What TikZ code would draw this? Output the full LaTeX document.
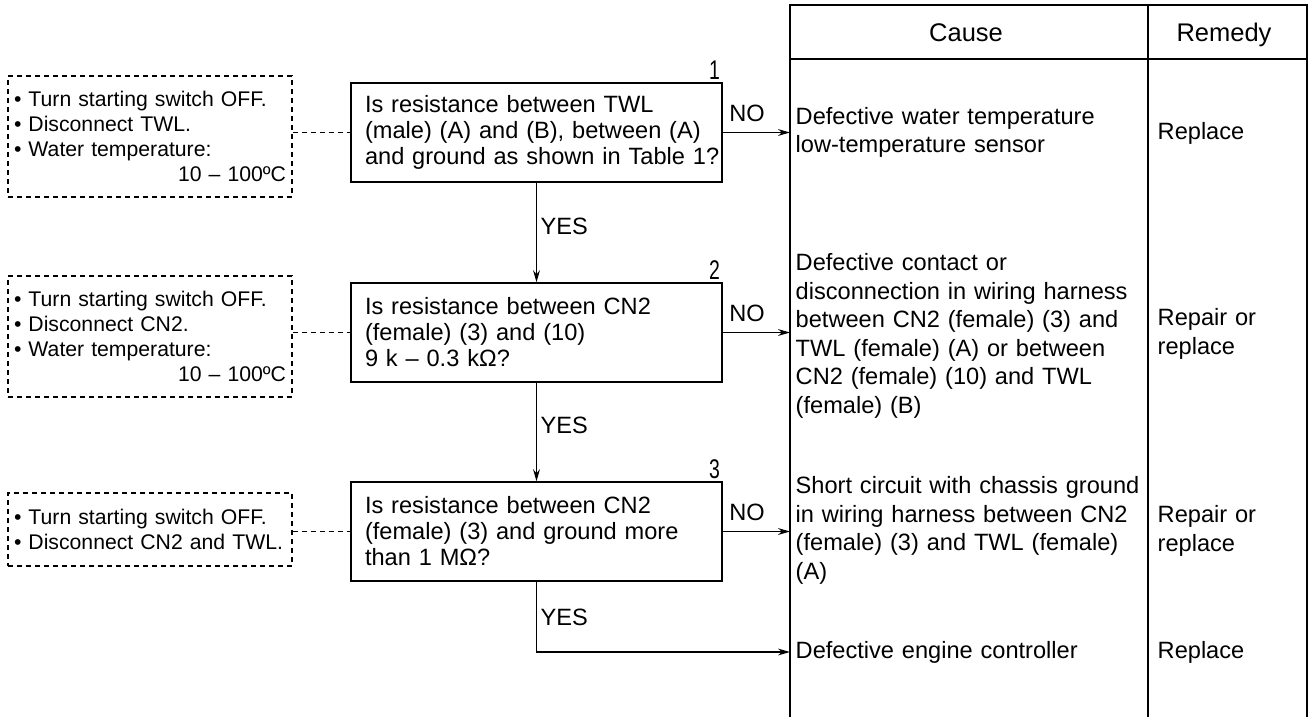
\documentclass[tikz,border=0pt]{standalone}
\usepackage{fontspec}
\setmainfont{Liberation Sans}
\usepackage{graphicx}
\usetikzlibrary{arrows.meta}
\begin{document}
\begin{tikzpicture}[x=0.5pt,y=-0.5pt,
  line width=0.7pt,
  every node/.style={inner sep=0pt},
  qbox/.style={draw, font=\fontsize{11.8pt}{13pt}\selectfont, minimum width=185.5pt, minimum height=49.5pt, text width=171.5pt, align=left, inner xsep=7pt},
  cond/.style={draw, dash pattern=on 2.5pt off 2pt, font=\fontsize{10.6pt}{12.6pt}\selectfont, minimum width=142pt, text width=136pt, align=left, inner xsep=3pt},
  cause/.style={anchor=west, font=\fontsize{11.8pt}{14.25pt}\selectfont, text width=174pt, align=left, inner xsep=2.5pt},
  remedy/.style={anchor=west, font=\fontsize{11.8pt}{14.25pt}\selectfont, text width=70pt, align=left, inner xsep=4.5pt},
  lbl/.style={font=\fontsize{11.8pt}{13pt}\selectfont},
  head/.style={anchor=base, font=\fontsize{12.75pt}{14pt}\selectfont},
  num/.style={anchor=south east, font=\fontsize{13.5pt}{14pt}\selectfont},
  arr/.style={-{Stealth[length=6pt,width=3.4pt]}},
  link/.style={dash pattern=on 2.5pt off 2pt}
]
\useasboundingbox (0,0) rectangle (1310,717);

% table
\draw (790,717) -- (790,5) -- (1307,5) -- (1307,717);
\draw (1148,5) -- (1148,717);
\draw (790,59) -- (1307,59);
\node[head] (hc) at (966,42) {Cause};
\node[head] (hr) at (1224,42) {Remedy};

% decision boxes
\node[qbox] (q1) at (536.5,132.5) {Is resistance between TWL\\\mbox{(male) (A) and (B), between (A)}\\\mbox{and ground as shown in Table 1?}};
\node[qbox] (q2) at (536.5,332.5) {Is resistance between CN2\\(female) (3) and (10)\\9 k – 0.3 kΩ?};
\node[qbox] (q3) at (536.5,531.5) {Is resistance between CN2\\\mbox{(female) (3) and ground more}\\than 1 MΩ?};

\node[num, xshift=-1pt, yshift=1pt] (n1) at (q1.north east) {\scalebox{0.72}[1]{1}};
\node[num, xshift=-1pt, yshift=1pt] (n2) at (q2.north east) {\scalebox{0.72}[1]{2}};
\node[num, xshift=-1pt, yshift=1pt] (n3) at (q3.north east) {\scalebox{0.72}[1]{3}};

% condition boxes
\node[cond, minimum height=60.5pt] (p1) at (150,136.5) {• Turn starting switch OFF.\\• Disconnect TWL.\\• Water temperature:\\\mbox{}\hfill 10 – 100ºC};
\node[cond, minimum height=60.5pt] (p2) at (150,336.5) {• Turn starting switch OFF.\\• Disconnect CN2.\\• Water temperature:\\\mbox{}\hfill 10 – 100ºC};
\node[cond, minimum height=36.5pt] (p3) at (150,529.5) {• Turn starting switch OFF.\\• Disconnect CN2 and TWL.};

\draw[link] (p1.east |- q1.west) -- (q1.west);
\draw[link] (p2.east |- q2.west) -- (q2.west);
\draw[link] (p3.east |- q3.west) -- (q3.west);

% causes
\node[cause] (c1) at (790,132.5) {Defective water temperature\\low-temperature sensor};
\node[cause] (c2) at (790,336) {Defective contact or\\disconnection in wiring harness\\between CN2 (female) (3) and\\TWL (female) (A) or between\\CN2 (female) (10) and TWL\\(female) (B)};
\node[cause] (c3) at (790,530.5) {\mbox{Short circuit with chassis ground}\\in wiring harness between CN2\\(female) (3) and TWL (female)\\(A)};
\node[cause] (c4) at (790,652) {Defective engine controller};

% remedies
\node[remedy] (r1) at (1148,133) {Replace};
\node[remedy] (r2) at (1148,334) {Repair or\\replace};
\node[remedy] (r3) at (1148,531) {Repair or\\replace};
\node[remedy] (r4) at (1148,652) {Replace};

% connectors
\draw[arr] (q1.east) -- (q1.east -| c1.west);
\draw[arr] (q2.east) -- (q2.east -| c2.west);
\draw[arr] (q3.east) -- (q3.east -| c3.west);
\draw[arr] (q1) -- (q2);
\draw[arr] (q2) -- (q3);
\draw[arr] (q3.south) |- (c4.west);

\node[lbl, anchor=base west, xshift=3pt, yshift=5.5pt] (no1) at (q1.east) {NO};
\node[lbl, anchor=base west, xshift=3pt, yshift=5.5pt] (no2) at (q2.east) {NO};
\node[lbl, anchor=base west, xshift=3pt, yshift=5.5pt] (no3) at (q3.east) {NO};

\node[lbl, anchor=west] (y1) at (540,226.5) {YES};
\node[lbl, anchor=west] (y2) at (540,425) {YES};
\node[lbl, anchor=west] (y3) at (540,617.5) {YES};
\end{tikzpicture}
\end{document}
